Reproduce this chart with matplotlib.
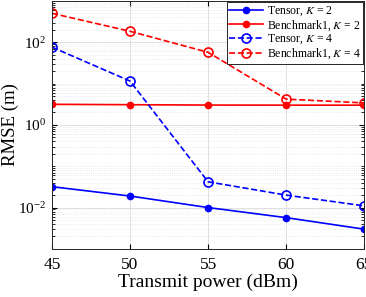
import numpy as np
import matplotlib.pyplot as plt
from matplotlib.ticker import LogLocator, NullFormatter

plt.rcParams['font.family'] = ['Liberation Serif', 'DejaVu Serif']
plt.rcParams['mathtext.fontset'] = 'stix'

power = [45, 50, 55, 60, 65]
tensor_k2 = [0.032, 0.019, 0.0100, 0.0057, 0.0030]
bench_k2 = [3.15, 3.08, 3.02, 3.0, 3.0]
tensor_k4 = [76, 11.5, 0.042, 0.020, 0.011]
bench_k4 = [500, 184, 57, 4.2, 3.4]

fig = plt.figure(figsize=(3.66, 2.97), dpi=100)
ax = fig.add_axes([0.142, 0.162, 0.853, 0.835])

ax.plot(power, tensor_k2, '-', color='#0000ff', lw=1.2, marker='o', ms=4.5,
        mfc='#0000ff', label='Tensor, $K$ = 2')
ax.plot(power, bench_k2, '-', color='#ff0000', lw=1.2, marker='o', ms=4.5,
        mfc='#ff0000', label='Benchmark1, $K$ = 2')
ax.plot(power, tensor_k4, '--', color='#0000ff', lw=1.2, marker='o', ms=6.5,
        mfc='none', mew=1.2, label='Tensor, $K$ = 4')
ax.plot(power, bench_k4, '--', color='#ff0000', lw=1.2, marker='o', ms=6.5,
        mfc='none', mew=1.2, label='Benchmark1, $K$ = 4')

ax.set_yscale('log')
ax.set_xlim(45, 65)
ax.set_ylim(1e-3, 1e3)
ax.set_xticks(power)
ax.set_yticks([1e-2, 1e0, 1e2])
ax.yaxis.set_minor_locator(LogLocator(base=10, subs=np.arange(1, 10), numticks=20))
ax.yaxis.set_minor_formatter(NullFormatter())

ax.grid(True, which='major', color='#e0e0e0', lw=0.7)
ax.grid(True, which='minor', axis='y', color='#e0e0e0', lw=0.5, ls=':')
ax.tick_params(which='both', direction='in', top=True, right=True)
ax.tick_params(axis='x', labelsize=12.5, pad=6)
ax.tick_params(axis='y', labelsize=11, pad=4)
ax.tick_params(which='minor', length=2)
for s in ax.spines.values():
    s.set_color('#262626')
    s.set_linewidth(0.7)

ax.set_xlabel('Transmit power (dBm)', fontsize=14, labelpad=0)
ax.set_ylabel('RMSE (m)', fontsize=13.5)
ax.yaxis.set_label_coords(-0.106, 0.5)

leg = ax.legend(loc='upper right', fontsize=8.5, fancybox=False, framealpha=1,
                edgecolor='#262626', borderpad=0.2, labelspacing=0.02,
                handlelength=2.9, handletextpad=0.3, borderaxespad=0.1)
leg.get_frame().set_linewidth(0.7)

fig.savefig('out.png', dpi=100)
